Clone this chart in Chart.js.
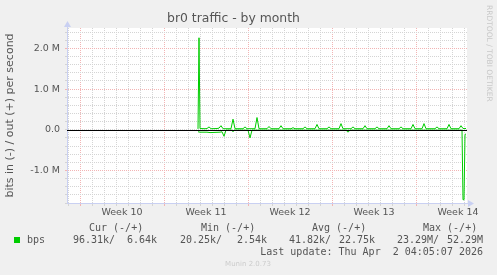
<!DOCTYPE html>
<html>
<head>
<meta charset="utf-8">
<script src="https://cdn.jsdelivr.net/npm/chart.js@4/dist/chart.umd.min.js"></script>
<style>
  html, body { margin: 0; padding: 0; background: #f0f0f0; }
</style>
</head>
<body>
<canvas id="chart" width="497" height="275"></canvas>
<script>
// hours since the start of the graph window (2 h per pixel), values in Mbit/s
const outHours = [262, 264, 266, 276, 280, 284, 288, 300, 304, 308, 312, 328, 332, 336,
  352, 356, 360, 376, 380, 384, 400, 404, 408, 424, 428, 432, 448, 452, 456, 472, 476, 480,
  496, 500, 504, 520, 524, 528, 544, 548, 552, 568, 572, 576, 592, 596, 600, 616, 620, 624,
  640, 644, 648, 664, 668, 672, 688, 692, 696, 710, 714, 718, 736, 740, 744, 760, 764, 768,
  784, 788, 792, 798];
const outMbps = [0.02, 2.26, 0.03, 0.025, 0.03, 0.07, 0.025, 0.03, 0.04, 0.10, 0.025, 0.025, 0.26, 0.025,
  0.025, 0.07, 0.025, 0.025, 0.30, 0.025, 0.025, 0.08, 0.025, 0.025, 0.10, 0.025, 0.025, 0.05, 0.025, 0.025, 0.07, 0.025,
  0.025, 0.13, 0.025, 0.025, 0.07, 0.025, 0.025, 0.15, 0.025, 0.025, 0.07, 0.025, 0.025, 0.10, 0.025, 0.025, 0.07, 0.025,
  0.025, 0.10, 0.025, 0.025, 0.07, 0.025, 0.025, 0.13, 0.025, 0.025, 0.15, 0.025, 0.025, 0.07, 0.025, 0.025, 0.13, 0.025,
  0.025, 0.10, 0.03, 0.03];

const inHours = [262, 266, 280, 286, 306, 310, 314, 318, 330, 332, 334, 362, 366, 370,
  558, 562, 566, 788, 790, 792, 794, 796, 798];
const inMbps = [-0.05, -0.06, -0.06, -0.07, -0.06, -0.05, -0.16, -0.01, -0.01, -0.05, -0.01, -0.01, -0.20, -0.01,
  -0.01, -0.06, -0.01, -0.01, -0.01, -1.72, -1.72, -0.12, -0.10];

const weekLabels = ["Week 10", "Week 11", "Week 12", "Week 13", "Week 14"];
const weekStartHours = [26, 194, 362, 530, 698];
const yGridValues = [-1.8, -1.6, -1.4, -1.2, -1.0, -0.8, -0.6, -0.4, -0.2, 0, 0.2, 0.4, 0.6, 0.8,
  1.0, 1.2, 1.4, 1.6, 1.8, 2.0, 2.2, 2.4];

const legendHeaders = ["Cur (-/+)", "Min (-/+)", "Avg (-/+)", "Max (-/+)"];
const legendIn = ["96.31k", "20.25k", "41.82k", "23.29M"];
const legendOut = ["6.64k", "2.54k", "22.75k", "52.29M"];
const lastUpdate = "Last update: Thu Apr  2 04:05:07 2026";

const GREEN = "#00cc00";
const TEXT = "#555555";
const AXIS = "#c9d0f2";
const MINOR = "rgb(212,212,212)";
const MAJOR = "rgb(242,180,180)";

// day grid lines + a label tick in the middle of each week
const dayTicks = [];
for (let h = weekStartHours[0] - 24; h <= 800; h += 24) dayTicks.push(h);
const midWeek = {};
weekStartHours.forEach((h, i) => { midWeek[h + 84] = weekLabels[i]; });
const xTicks = dayTicks.concat(Object.keys(midWeek).map(Number)).sort((a, b) => a - b);

Chart.defaults.font.family = '"DejaVu Sans", sans-serif';

const muninPlugin = {
  id: "munin",
  beforeDraw(chart) {
    const { ctx, chartArea: a } = chart;
    ctx.save();
    ctx.fillStyle = "#f0f0f0";
    ctx.fillRect(0, 0, chart.width, chart.height);
    ctx.fillStyle = "#ffffff";
    ctx.fillRect(a.left, a.top, a.right - a.left, a.bottom - a.top);
    ctx.restore();
  },
  afterDatasetsDraw(chart) {
    const { ctx, chartArea: a } = chart;
    const y0 = Math.round(chart.scales.y.getPixelForValue(0));
    ctx.save();
    ctx.fillStyle = "#000000";
    ctx.fillRect(a.left, y0, a.right - a.left, 1);
    ctx.restore();
  },
  afterDraw(chart) {
    const { ctx, chartArea: a } = chart;
    ctx.save();
    // axis arrows
    ctx.fillStyle = AXIS;
    ctx.fillRect(a.left, a.top - 5, 1, 6);
    ctx.beginPath();
    ctx.moveTo(a.left - 3, a.top - 1);
    ctx.lineTo(a.left + 4, a.top - 1);
    ctx.lineTo(a.left + 0.5, a.top - 7);
    ctx.closePath();
    ctx.fill();
    ctx.fillRect(a.right, a.bottom, 3, 1);
    ctx.beginPath();
    ctx.moveTo(a.right + 1, a.bottom - 3);
    ctx.lineTo(a.right + 1, a.bottom + 4);
    ctx.lineTo(a.right + 7, a.bottom + 0.5);
    ctx.closePath();
    ctx.fill();

    // legend
    ctx.font = '10px "DejaVu Sans Mono", monospace';
    ctx.fillStyle = TEXT;
    ctx.textBaseline = "middle";
    ctx.textAlign = "left";
    const headX = [89, 201, 312, 423];
    legendHeaders.forEach((t, i) => ctx.fillText(t, headX[i], 228));
    ctx.fillStyle = GREEN;
    ctx.fillRect(14, 237, 6, 6);
    ctx.fillStyle = TEXT;
    ctx.fillText("bps", 27, 240);
    const inX = [73, 180, 289, 397];
    const outEnd = [157, 267, 375, 483];
    legendIn.forEach((t, i) => {
      ctx.textAlign = "left";
      ctx.fillText(t + "/", inX[i], 240);
      ctx.textAlign = "right";
      ctx.fillText(legendOut[i], outEnd[i], 240);
    });
    ctx.textAlign = "right";
    ctx.fillText(lastUpdate, 483, 252);

    ctx.font = '7px "DejaVu Sans", sans-serif';
    ctx.fillStyle = "#cccccc";
    ctx.textAlign = "center";
    ctx.fillText("Munin 2.0.73", 248, 264);

    ctx.translate(489, 5);
    ctx.rotate(Math.PI / 2);
    ctx.textAlign = "left";
    ctx.font = '7.5px "DejaVu Sans", sans-serif';
    ctx.fillStyle = "#c8c8c8";
    ctx.fillText("RRDTOOL / TOBI OETIKER", 0, 0);
    ctx.restore();
  }
};

new Chart(document.getElementById("chart"), {
  type: "line",
  data: {
    datasets: [
      {
        label: "bps out",
        data: outHours.map((h, i) => ({ x: h, y: outMbps[i] })),
        borderColor: GREEN,
        borderWidth: 1,
        pointRadius: 0,
        tension: 0,
        fill: false,
      },
      {
        label: "bps in",
        data: inHours.map((h, i) => ({ x: h, y: inMbps[i] })),
        borderColor: GREEN,
        borderWidth: 1,
        pointRadius: 0,
        tension: 0,
        fill: false,
      },
    ],
  },
  options: {
    responsive: false,
    animation: false,
    devicePixelRatio: 1,
    layout: { padding: { left: 0, right: 30, top: 0, bottom: 0 } },
    plugins: {
      legend: { display: false },
      tooltip: { enabled: false },
      title: {
        display: true,
        text: "br0 traffic - by month",
        color: TEXT,
        font: { size: 12.4, weight: "normal", lineHeight: "16px" },
        padding: { top: 11, bottom: 1 },
      },
    },
    scales: {
      x: {
        type: "linear",
        min: 0,
        max: 800,
        afterBuildTicks: (s) => { s.ticks = xTicks.map((v) => ({ value: v })); },
        afterFit: (s) => { s.height = 72; },
        ticks: {
          autoSkip: false,
          maxRotation: 0,
          padding: 1,
          color: TEXT,
          font: { size: 9.5 },
          callback: (v) => midWeek[v] || "",
        },
        grid: {
          tickLength: 3,
          color: (c) => {
            const v = c.tick ? c.tick.value : null;
            if (midWeek[v]) return "rgba(0,0,0,0)";
            return weekStartHours.includes(v) ? MAJOR : MINOR;
          },
        },
        border: { color: AXIS, dash: [1, 1] },
      },
      y: {
        min: -1.8,
        max: 2.5,
        afterBuildTicks: (s) => { s.ticks = yGridValues.map((v) => ({ value: v })); },
        afterFit: (s) => { s.width = 67; },
        ticks: {
          autoSkip: false,
          padding: 5,
          color: TEXT,
          font: { size: 9.5 },
          callback: (v) => Number.isInteger(v) ? (v === 0 ? "0.0" : v.toFixed(1) + " M") : "",
        },
        grid: {
          tickLength: 2,
          color: (c) => {
            const v = c.tick ? c.tick.value : null;
            return Number.isInteger(v) && v !== 0 ? MAJOR : MINOR;
          },
        },
        border: { color: AXIS, dash: [1, 1] },
        title: {
          display: true,
          text: "bits in (-) / out (+) per second",
          color: TEXT,
          font: { size: 11 },
          padding: { top: 4, bottom: 0 },
        },
      },
    },
  },
  plugins: [muninPlugin],
});
</script>
</body>
</html>
